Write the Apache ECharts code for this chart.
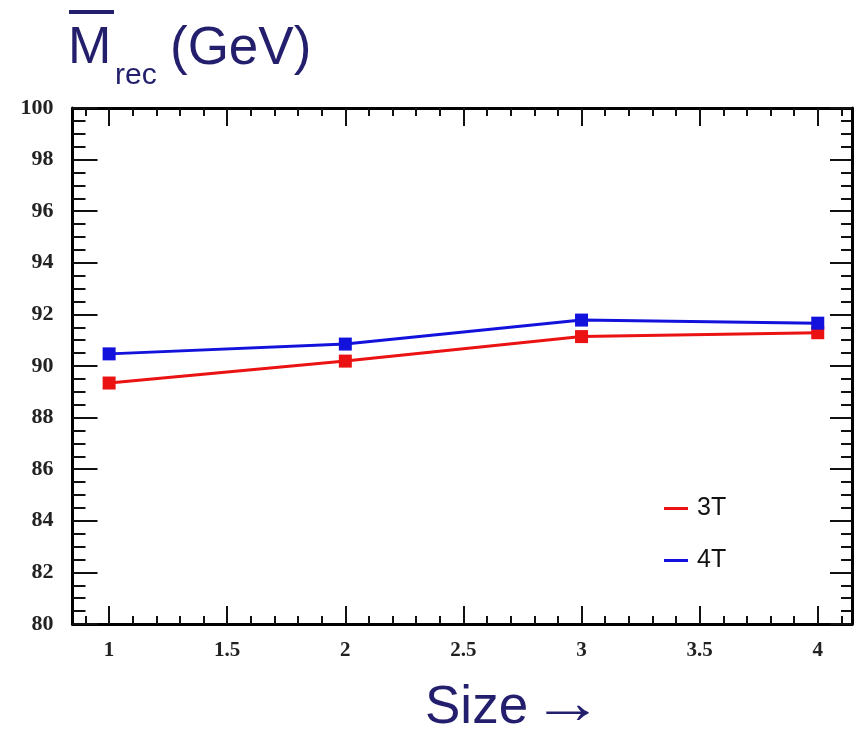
<!DOCTYPE html>
<html>
<head>
<meta charset="utf-8">
<script src="https://cdn.jsdelivr.net/npm/echarts@6/dist/echarts.min.js"></script>
<style>
html,body{margin:0;padding:0;background:#fff;}
#chart{width:859px;height:729px;}
</style>
</head>
<body>
<div id="chart"></div>
<script>
// ---- data ----
var sizes = [1, 2, 3, 4];
var mrec3T = [89.34, 90.19, 91.14, 91.29];
var mrec4T = [90.47, 90.85, 91.78, 91.66];
var seriesNames = ['3T', '4T'];
var xMajorTicks = [1, 1.5, 2, 2.5, 3, 3.5, 4];
var xMinorTicks = [0.9, 1.1, 1.2, 1.3, 1.4, 1.6, 1.7, 1.8, 1.9, 2.1, 2.2, 2.3, 2.4, 2.6, 2.7, 2.8, 2.9,
                   3.1, 3.2, 3.3, 3.4, 3.6, 3.7, 3.8, 3.9, 4.1];
var yMin = 80, yMax = 100, yStep = 2;
var xMin = 0.845, xMax = 4.145;

var RED = '#ea1212', BLUE = '#1212dc', NAVY = '#231f6c';
var chart = echarts.init(document.getElementById('chart'));

function pairs(xs, ys){ return xs.map(function(x,i){ return [x, ys[i]]; }); }
var labelFont = {fontFamily: 'Liberation Serif', fontWeight: 'bold', fontSize: 21, color: '#222'};

function xAx(pos, ticks, len, labels, line){
  return {
    type: 'value', position: pos, min: xMin, max: xMax,
    splitLine: {show: false},
    axisLine: {show: line, onZero: false, lineStyle: {color: '#000', width: 3}},
    axisTick: {show: true, inside: true, length: len, customValues: ticks, lineStyle: {color: '#111', width: 2}},
    axisLabel: labels ? Object.assign({show: true, customValues: xMajorTicks, margin: 16}, labelFont) : {show: false}
  };
}
function yAx(pos, majLen, minLen, labels){
  return {
    type: 'value', position: pos, min: yMin, max: yMax, interval: yStep,
    splitLine: {show: false},
    axisLine: {show: true, onZero: false, lineStyle: {color: '#000', width: 3}},
    axisTick: {show: true, inside: true, length: majLen, lineStyle: {color: '#111', width: 2}},
    minorTick: {show: true, splitNumber: 4, length: minLen, lineStyle: {color: '#111', width: 2}},
    axisLabel: labels ? Object.assign({show: true, margin: 19}, labelFont, {fontSize: 22}) : {show: false}
  };
}

chart.setOption({
  animation: false,
  backgroundColor: '#fff',
  grid: {left: 72.5, right: 7, top: 108, bottom: 105, containLabel: false},
  xAxis: [
    xAx('bottom', xMajorTicks, 18, true, true),
    xAx('bottom', xMinorTicks, 8, false, false),
    xAx('top', xMajorTicks, 18, false, true),
    xAx('top', xMinorTicks, 8, false, false)
  ],
  yAxis: [
    yAx('left', 25, 13, true),
    yAx('right', 22, 11, false)
  ],
  legend: {
    orient: 'vertical', left: 664, top: 496, itemGap: 27, padding: 0,
    icon: 'rect', itemWidth: 24, itemHeight: 3,
    textStyle: {fontFamily: 'Liberation Sans', fontSize: 25, color: '#111', padding: [0, 0, 0, 4]},
    data: seriesNames
  },
  series: [
    {name: seriesNames[0], type: 'line', data: pairs(sizes, mrec3T), xAxisIndex: 0, yAxisIndex: 0,
     symbol: 'rect', symbolSize: 13, color: RED, lineStyle: {width: 3, color: RED}, itemStyle: {color: RED}},
    {name: seriesNames[1], type: 'line', data: pairs(sizes, mrec4T), xAxisIndex: 0, yAxisIndex: 0,
     symbol: 'rect', symbolSize: 13, color: BLUE, lineStyle: {width: 3, color: BLUE}, itemStyle: {color: BLUE}}
  ],
  graphic: [
    {type: 'rect', shape: {x: 69, y: 10, width: 45, height: 4}, style: {fill: NAVY}},
    {type: 'text', x: 68, y: 49, style: {text: 'M', font: '52px "Liberation Sans"', fill: NAVY, verticalAlign: 'middle', textVerticalAlign: 'middle'}},
    {type: 'text', x: 115, y: 76, style: {text: 'rec', font: '30px "Liberation Sans"', fill: NAVY, verticalAlign: 'middle', textVerticalAlign: 'middle'}},
    {type: 'text', x: 170, y: 49, style: {text: '(GeV)', font: '53px "Liberation Sans"', fill: NAVY, verticalAlign: 'middle', textVerticalAlign: 'middle'}},
    {type: 'text', x: 425, y: 708, style: {text: 'Size', font: '53px "Liberation Sans"', fill: NAVY, verticalAlign: 'middle', textVerticalAlign: 'middle'}},
    {type: 'text', x: 532, y: 706, scaleX: 1.35, scaleY: 1.15, style: {text: '\u2192', font: '53px "Liberation Sans"', fill: NAVY, verticalAlign: 'middle', textVerticalAlign: 'middle'}}
  ]
});
</script>
</body>
</html>
